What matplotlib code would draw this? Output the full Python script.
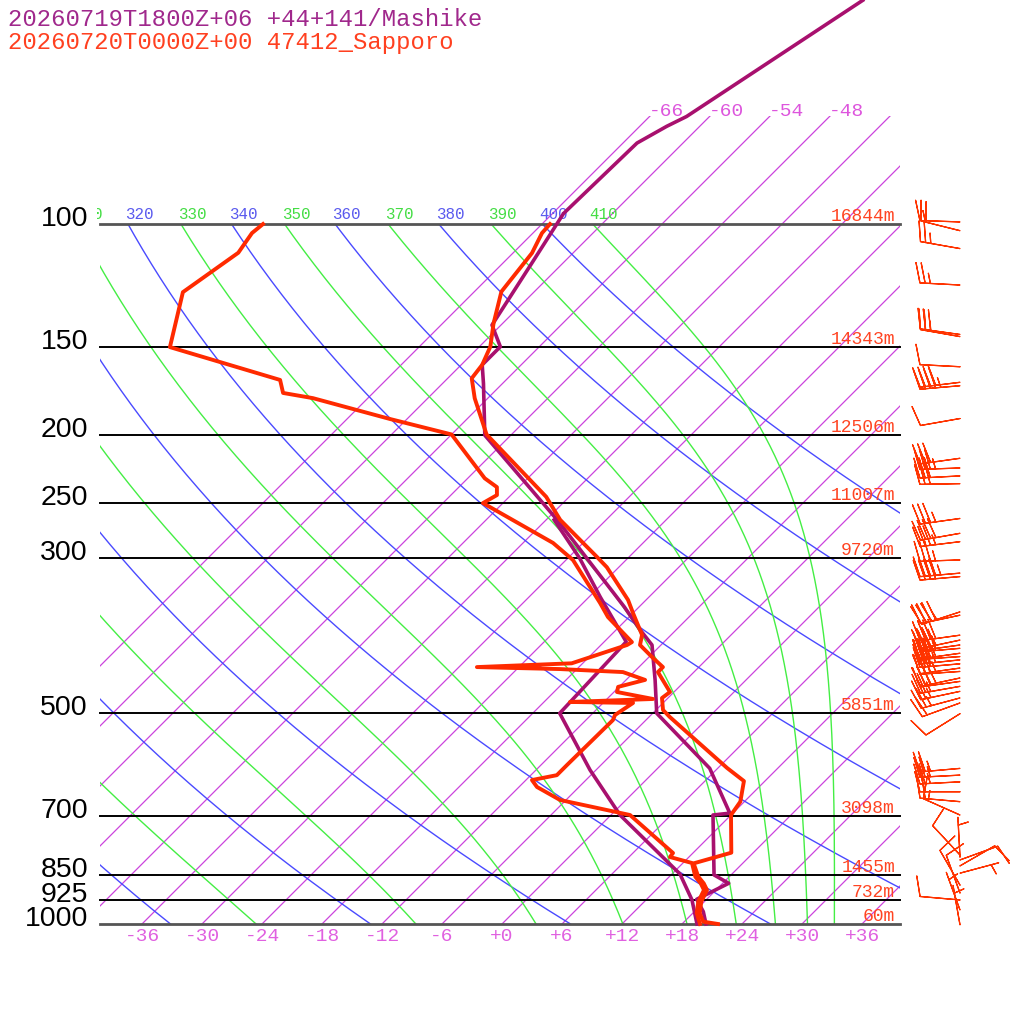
import numpy as np
import matplotlib
matplotlib.use('Agg')
import matplotlib.pyplot as plt
from matplotlib.patches import Rectangle
from matplotlib.transforms import Bbox

# observed sounding (Sapporo), hPa / degC
obs_p = [1000, 992.5, 965.4, 929.3, 894.2, 874.7, 855.9, 819.2, 790.9, 698.7, 668.7, 624.9,
         598.5, 506.3, 494.6, 475.5, 466.2, 436.6, 429.5, 415.5, 399.4, 386.4, 359.5, 344.4,
         309.2, 299.0, 264.6, 245.3, 199.8, 177.4, 166.1, 158.9, 149.7, 138.7, 124.9, 110.0,
         103.0, 100.0]
obs_t = [21.6, 19.9, 18.7, 17.7, 17.1, 16.1, 14.9, 13.1, 15.8, 12.0, 11.6, 9.9,
         6.9, -3.9, -5.3, -6.6, -6.4, -9.6, -9.6, -11.7, -14.1, -14.9, -18.0, -19.8,
         -25.2, -27.2, -34.6, -38.3, -50.5, -55.3, -57.6, -57.9, -58.9, -60.9, -63.3, -64.1,
         -65.1, -65.2]
obs_td_p = [1000, 995, 965.4, 929.3, 894.2, 874.7, 855.9, 818.2, 802.3, 791.7, 698.7, 665.0,
            637.2, 622.8, 612.9, 593.0, 511.3, 502.8, 483.3, 481.7, 477.0, 466.2, 458.4,
            448.0, 436.6, 432.3, 429.5, 424.2, 399.4, 395.6, 364.3, 347.8, 302.0, 285.5,
            250.4, 243.9, 237.6, 230.8, 199.8, 189.9, 177.3, 174.3, 167.0, 149.9, 125.1,
            109.9, 103.0, 100.0]
obs_td = [19.8, 19.6, 18.4, 17.4, 16.8, 15.8, 14.6, 12.9, 10.1, 10.0, 1.9, -6.6,
          -10.2, -11.4, -9.4, -9.4, -9.3, -9.6, -9.0, -15.4, -7.4, -11.7, -12.1,
          -10.1, -13.1, -19.7, -28.2, -19.1, -15.4, -15.2, -20.1, -22.3, -29.3, -33.0,
          -44.0, -43.4, -44.2, -46.3, -54.0, -61.7, -71.5, -75.0, -76.6, -90.9, -95.1,
          -93.5, -94.1, -93.9]

# model profile (Mashike)
mdl_p = [1000, 960.3, 922.0, 874.7, 851.0, 698.7, 694.5, 599.2, 500.0, 448.0, 399.4, 380.0,
         352.2, 264.6, 200.3, 169.0, 158.9, 149.7, 139.4, 113.8, 96.6, 76.6, 72.5, 70.2, 47.9]
mdl_t = [20.4, 18.9, 17.0, 18.6, 16.3, 10.2, 11.7, 5.2, -5.6, -9.1, -12.9, -15.6,
         -19.5, -34.9, -50.6, -55.9, -57.9, -57.9, -60.9, -63.1, -64.9, -64.6, -63.3, -62.3, -56.3]
mdl_td_p = [1000, 924.1, 848.4, 698.7, 602.5, 500.0, 395.2, 340.9, 300.3, 264.6]
mdl_td = [19.5, 16.6, 12.8, 0.9, -6.6, -15.3, -15.8, -22.9, -28.8, -35.2]

levels = [1000, 925, 850, 700, 500, 300, 250, 200, 150, 100]
heights = ['60m', '732m', '1455m', '3098m', '5851m', '9720m', '11007m', '12506m', '14343m', '16844m']

# observed winds: pressure, direction (deg), speed (kt)
wind_p = [99.3, 102.2, 108.4, 122.2, 143.8, 144.8, 159.9, 168.3, 170.2, 189.6,
          216.1, 223.1, 229.0, 234.9, 263.4, 276.6, 284.3, 301.9, 315.3, 318.9,
          358.2, 362.1, 386.7, 393.0, 399.4, 403.8, 410.4, 414.9, 419.4, 424.9,
          430.9, 435.7, 445.2, 450.2, 457.6, 465.2, 475.4, 483.3, 500.7,
          599.4, 612.8, 626.5, 647.3, 668.7, 698.7, 797.0, 803.0,
          810, 826, 846, 880, 903, 924, 955, 1003]
wind_dir = [272, 284, 280, 273, 278, 280, 273, 263, 265, 260,
            262, 268, 267, 269, 262, 260, 263, 268, 265, 265,
            252, 258, 262, 258, 262, 265, 262, 266, 264, 265,
            262, 266, 258, 262, 260, 258, 255, 250, 238,
            265, 267, 267, 270, 275, 294, 317, 357,
            70, 60, 75, 330, 340, 275, 340, 350]
wind_kt = [15, 20, 25, 25, 30, 25, 10, 40, 45, 10,
           30, 35, 30, 30, 35, 40, 35, 35, 45, 40,
           35, 40, 40, 35, 40, 35, 35, 30, 35, 30,
           35, 30, 35, 30, 25, 25, 25, 20, 10,
           25, 25, 25, 20, 20, 15, 10, 5,
           10, 10, 5, 10, 10, 10, 5, 5]

dry_thetas = list(range(240, 401, 20))
moist_thetas = list(range(250, 411, 20))
isotherms = list(range(-66, 37, 6))

SKEW = 30.4   # degC shift per ln(1000/p)


def skew_x(t, p):
    return np.asarray(t, dtype=float) + SKEW * np.log(1000.0 / np.asarray(p, dtype=float))


def theta_e_sat(tk, p):
    tc = tk - 273.15
    es = 6.112 * np.exp(17.67 * tc / (tc + 243.5))
    r = 0.622 * es / (p - es)
    return tk * (1000.0 / p) ** (0.2854 * (1 - 0.28 * r)) * \
        np.exp((3.376 / tk - 0.00254) * r * 1000 * (1 + 0.81 * r))


def moist_line(the, p):
    # bisection for the temperature where saturated theta-e equals the label value
    lo = np.full_like(p, 90.0)
    hi = np.full_like(p, 310.0)
    for _ in range(60):
        mid = 0.5 * (lo + hi)
        big = theta_e_sat(mid, p) > the
        hi = np.where(big, mid, hi)
        lo = np.where(big, lo, mid)
    return 0.5 * (lo + hi) - 273.15


fig = plt.figure(figsize=(10.24, 10.24), dpi=100)
ax = fig.add_axes([0, 0, 1, 1])
ax.set_yscale('log')
ax.set_xlim(-50.2, 52.2)
ax.set_ylim(1389.6, 47.85)
ax.axis('off')

x_left, x_right = -40.2, 39.8
frame = Rectangle((x_left, 100), x_right - x_left, 900, transform=ax.transData)
iso_box = Rectangle((x_left, 70), x_right - x_left, 930, transform=ax.transData)
label_clip = Bbox.from_extents(97, 0, 1024, 1024)

mono = 'Liberation Mono'


def top_label(text, xval, color):
    # labels at the 100 hPa line, cut off at the left edge of the diagram
    if xval + 2.6 < x_left - 0.3:
        return
    txt = ax.annotate(text, (xval, 100.0), xytext=(-3, 5), textcoords='offset pixels',
                      ha='left', va='baseline', color=color, fontsize=11.4, family=mono)
    txt.set_clip_box(label_clip)
    txt.set_clip_on(True)


# isotherms
for t in isotherms:
    pp = np.array([1000.0, 70.0])
    ln, = ax.plot(skew_x(t, pp), pp, color='#cc44dd', lw=0.9, zorder=1)
    ln.set_clip_path(iso_box)
    xt = skew_x(t, 70.0)
    if x_left < xt and xt + 3.6 < x_right:
        ax.annotate('%d' % t, (xt, 70.0), xytext=(-2, 0), textcoords='offset pixels',
                    ha='left', va='baseline', color='#dd55dd', fontsize=14, family=mono)
    if -36 <= t <= 36:
        ax.annotate('%+d' % t, (skew_x(t, 1000.0), 1000.0), xytext=(0, -13),
                    textcoords='offset pixels', ha='center', va='center',
                    color='#e060e0', fontsize=14, family=mono)

pgrid = np.geomspace(1000, 100, 300)

# dry adiabats
for th in dry_thetas:
    tt = th * (pgrid / 1000.0) ** 0.2857 - 273.15
    ln, = ax.plot(skew_x(tt, pgrid), pgrid, color='#4a4aff', lw=1.0, zorder=1)
    ln.set_clip_path(frame)
    top_label(str(th), skew_x(tt[-1], 100.0), '#5a5aee')

# saturated equivalent potential temperature lines
for th in moist_thetas:
    tt = moist_line(th, pgrid)
    ln, = ax.plot(skew_x(tt, pgrid), pgrid, color='#44ee44', lw=1.0, zorder=1)
    ln.set_clip_path(frame)
    top_label(str(th), skew_x(tt[-1], 100.0), '#44dd44')

# pressure levels
for lev, hgt in zip(levels, heights):
    edge = lev in (100, 1000)
    ax.plot([x_left, x_right], [lev, lev], color='#555555' if edge else 'black',
            lw=2.0 if edge else 1.4, zorder=2)
    ax.annotate(str(lev), (x_left, lev), xytext=(-12, -2), textcoords='offset pixels',
                ha='right', va='baseline', fontsize=20.5, family='Liberation Sans')
    ax.annotate(hgt, (x_right, lev), xytext=(-5, 3), textcoords='offset pixels',
                ha='right', va='baseline', color='#ff4422', fontsize=13, family=mono)

# profiles
ax.plot(skew_x(mdl_t, mdl_p), mdl_p, color='#a8106e', lw=2.6, zorder=3)
ax.plot(skew_x(mdl_td, mdl_td_p), mdl_td_p, color='#a8106e', lw=2.6, zorder=3)
ax.plot(skew_x(obs_t, obs_p), obs_p, color='#ff2a00', lw=2.8, zorder=4)
ax.plot(skew_x(obs_td, obs_td_p), obs_td_p, color='#ff2a00', lw=2.8, zorder=4)

# wind barbs
wd = np.radians(wind_dir)
u = -np.array(wind_kt) * np.sin(wd)
v = -np.array(wind_kt) * np.cos(wd)
ax.barbs(np.full(len(wind_p), 45.8), wind_p, u, v, length=7.6, pivot='tip',
         color='#ff3300', linewidth=0.9, sizes=dict(height=0.5, spacing=0.13, width=0.25),
         zorder=5, clip_on=False)

fig.text(8 / 1024, 1 - 26 / 1024, '20260719T1800Z+06 +44+141/Mashike', color='#a0288c',
         fontsize=17.2, family=mono, va='baseline')
fig.text(8 / 1024, 1 - 49 / 1024, '20260720T0000Z+00 47412_Sapporo', color='#ff4020',
         fontsize=17.2, family=mono, va='baseline')

fig.savefig('out.png', dpi=100)
